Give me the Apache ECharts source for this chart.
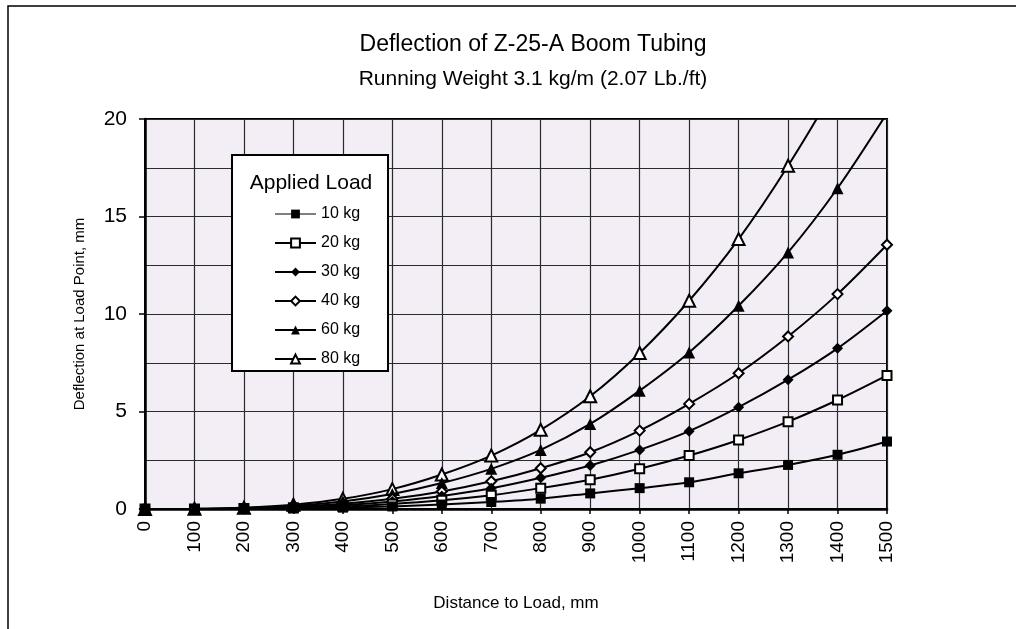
<!DOCTYPE html>
<html>
<head>
<meta charset="utf-8">
<script src="https://cdn.jsdelivr.net/npm/echarts@6/dist/echarts.min.js"></script>
<style>
  html, body { margin: 0; padding: 0; background: #fff; }
  #chart { width: 1016px; height: 629px; }
</style>
</head>
<body>
<div id="chart"></div>
<script>
// Distance from support to the load point, mm
const distances = [0, 100, 200, 300, 400, 500, 600, 700, 800, 900, 1000, 1100, 1200, 1300, 1400, 1500];

// Deflection at the load point (mm) for each applied load
const load10 = [0, 0, 0.01, 0.03, 0.07, 0.13, 0.23, 0.36, 0.53, 0.8, 1.07, 1.37, 1.83, 2.26, 2.78, 3.46];
const load20 = [0, 0, 0.02, 0.06, 0.13, 0.26, 0.45, 0.71, 1.07, 1.5, 2.06, 2.74, 3.54, 4.48, 5.59, 6.85];
const load30 = [0, 0, 0.03, 0.08, 0.2, 0.39, 0.67, 1.06, 1.6, 2.23, 3.03, 3.99, 5.22, 6.63, 8.24, 10.17];
const load40 = [0, 0, 0.03, 0.11, 0.27, 0.52, 0.9, 1.42, 2.09, 2.91, 4.02, 5.39, 6.96, 8.85, 11.02, 13.55];
const load60 = [0, 0.01, 0.05, 0.17, 0.39, 0.77, 1.33, 2.06, 3.03, 4.36, 6.07, 8.03, 10.42, 13.16, 16.45, 20.3];
const load80 = [0, 0.01, 0.07, 0.22, 0.52, 1.02, 1.77, 2.74, 4.06, 5.78, 8.0, 10.68, 13.84, 17.6, 21.9, 27.0];

const seriesNames = ['10 kg', '20 kg', '30 kg', '40 kg', '60 kg', '80 kg'];
const seriesValues = [load10, load20, load30, load40, load60, load80];
const seriesSymbols = ['rect', 'emptyRect', 'diamond', 'emptyDiamond', 'triangle', 'emptyTriangle'];
const seriesSymbolSizes = [10, 9, 11, 10, 12, 12];

// Axis tick values
const xTicks = { min: 0, max: 1500, step: 100 };
const yTicks = { min: 0, max: 20, step: 5 };

const FONT = 'Liberation Sans, Arial, sans-serif';

const chart = echarts.init(document.getElementById('chart'), null, { renderer: 'canvas' });

const series = seriesNames.map((name, i) => ({
  name: name,
  type: 'line',
  smooth: 0.3,
  clip: true,
  z: 10 - i,
  data: distances.map((d, k) => [d, seriesValues[i][k]]),
  symbol: seriesSymbols[i],
  symbolSize: seriesSymbolSizes[i],
  showAllSymbol: true,
  lineStyle: { color: '#000', width: 2 },
  itemStyle: { color: '#000', borderWidth: seriesSymbols[i].startsWith('empty') ? 1.8 : 0 },
  emphasis: { disabled: true },
  animation: false
}));

chart.setOption({
  animation: false,
  backgroundColor: '#fff',
  grid: {
    left: 145, right: 129, top: 119, bottom: 120,
    show: true,
    backgroundColor: '#F3EEF5',
    borderColor: '#000',
    borderWidth: 2
  },
  legend: {
    orient: 'vertical',
    left: 274, top: 206,
    padding: 0,
    z: 100,
    itemWidth: 41, itemHeight: 11, itemGap: 13,
    data: seriesNames.map((n, i) => (i === 0 ? { name: n, lineStyle: { width: 1 } } : { name: n })),
    textStyle: { fontFamily: FONT, fontSize: 16, color: '#000' },
    selectedMode: false
  },
  xAxis: {
    type: 'value',
    min: xTicks.min, max: xTicks.max, interval: xTicks.step,
    name: 'Distance to Load, mm',
    nameLocation: 'middle', nameGap: 86,
    nameTextStyle: { fontFamily: FONT, fontSize: 17, color: '#000' },
    axisLine: { show: true, lineStyle: { color: '#000', width: 2.5 } },
    axisTick: { show: true, length: 5, lineStyle: { color: '#000', width: 1.5 } },
    axisLabel: {
      rotate: 90, margin: 12, fontFamily: FONT, fontSize: 19, color: '#000',
      formatter: v => String(v)
    },
    splitLine: { show: true, lineStyle: { color: '#2a2a2a', width: 1.2 } }
  },
  yAxis: {
    type: 'value',
    min: yTicks.min, max: yTicks.max, interval: yTicks.step,
    name: 'Deflection at Load Point, mm',
    nameLocation: 'middle', nameGap: 58,
    nameTextStyle: { fontFamily: FONT, fontSize: 15, color: '#000' },
    axisLine: { show: true, lineStyle: { color: '#000', width: 2.5 } },
    axisTick: { show: true, length: 6, lineStyle: { color: '#000', width: 1.5 } },
    axisLabel: { margin: 18, fontFamily: FONT, fontSize: 21, color: '#000', formatter: v => String(v) },
    splitLine: { show: true, lineStyle: { color: '#2a2a2a', width: 1.2 } },
    minorTick: { show: false, splitNumber: 2 },
    minorSplitLine: { show: true, lineStyle: { color: '#2a2a2a', width: 1.2 } }
  },
  graphic: [
    {
      type: 'rect', silent: true, z: 0,
      shape: { x: 8, y: 6, width: 1030, height: 640 },
      style: { fill: 'none', stroke: '#000', lineWidth: 1.5 }
    },
    {
      type: 'text', silent: true,
      x: 533, y: 45,
      style: {
        text: 'Deflection of Z-25-A Boom Tubing', fontFamily: FONT, fontSize: 23, fill: '#000',
        textAlign: 'center', textVerticalAlign: 'middle'
      }
    },
    {
      type: 'text', silent: true,
      x: 533, y: 79,
      style: {
        text: 'Running Weight 3.1 kg/m (2.07 Lb./ft)', fontFamily: FONT, fontSize: 21, fill: '#000',
        textAlign: 'center', textVerticalAlign: 'middle'
      }
    },
    {
      type: 'rect', silent: true, z: 50,
      shape: { x: 232, y: 155, width: 156, height: 216 },
      style: { fill: '#fff', stroke: '#000', lineWidth: 2 }
    },
    {
      type: 'text', silent: true, z: 51,
      x: 311, y: 183,
      style: {
        text: 'Applied Load', fontFamily: FONT, fontSize: 21, fill: '#000',
        textAlign: 'center', textVerticalAlign: 'middle'
      }
    }
  ],
  series: series
});
</script>
</body>
</html>
